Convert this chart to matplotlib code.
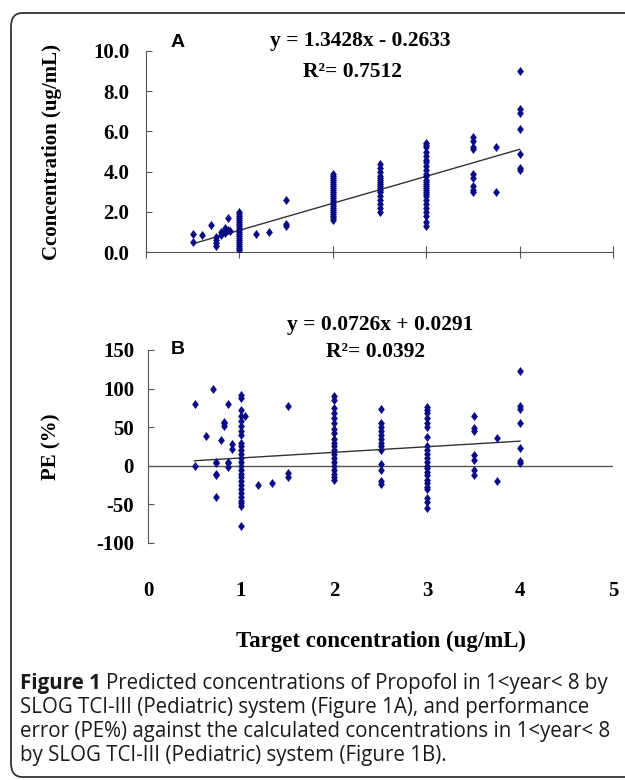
import matplotlib
matplotlib.use("Agg")
import matplotlib.pyplot as plt
from matplotlib.patches import FancyBboxPatch
import numpy as np

# panel A: target concentration vs measured concentration (ug/mL)
a_cols = [
    (0.5, [0.9, 0.5]),
    (0.6, [0.85]),
    (0.7, [1.35]),
    (0.75, [0.75, 0.6, 0.45, 0.3]),
    (0.8, [1.0, 0.85]),
    (0.85, [1.1, 0.95, 1.2]),
    (0.88, [1.7, 1.1]),
    (0.9, [1.05]),
    (1.0, [2.0, 1.9, 1.8, 1.7, 1.6, 1.5, 1.4, 1.3, 1.2, 1.1, 1.0, 0.9, 0.8, 0.7, 0.6, 0.5, 0.4, 0.3, 0.2, 0.1]),
    (1.18, [0.9]),
    (1.32, [1.0]),
    (1.5, [2.6, 1.4, 1.3]),
    (2.0, [3.9, 3.8, 3.7, 3.6, 3.5, 3.4, 3.3, 3.2, 3.1, 3.0, 2.9, 2.8, 2.7, 2.6, 2.5, 2.4, 2.3, 2.2, 2.1, 2.0, 1.9, 1.8, 1.7, 1.6]),
    (2.5, [4.4, 4.2, 4.0, 3.8, 3.7, 3.6, 3.5, 3.4, 3.3, 3.2, 3.1, 3.0, 2.8, 2.6, 2.4, 2.2, 2.0]),
    (3.0, [5.4, 5.3, 5.2, 5.0, 4.8, 4.6, 4.5, 4.3, 4.1, 3.9, 3.8, 3.6, 3.5, 3.4, 3.3, 3.2, 3.1, 3.0, 2.9, 2.8, 2.6, 2.4, 2.2, 2.0, 1.8, 1.5, 1.3]),
    (3.5, [5.7, 5.5, 5.2, 5.1, 3.9, 3.7, 3.3, 3.1, 3.0]),
    (3.75, [5.2, 3.0]),
    (4.0, [9.0, 7.1, 6.9, 6.1, 4.9, 4.2, 4.1]),
]
a_slope, a_icpt, a_r2 = 1.3428, -0.2633, 0.7512

# panel B: performance error PE (%)
b_cols = [
    (0.5, [80, 0]),
    (0.62, [38]),
    (0.7, [100]),
    (0.73, [3, 5, -10, -12, -40]),
    (0.78, [33]),
    (0.82, [55, 52, 57]),
    (0.86, [5, 3, -1, 80]),
    (0.9, [28, 22]),
    (1.0, [92, 88, 72, 65, 58, 52, 45, 40, 30, 25, 20, 15, 10, 5, 0, -5, -10, -15, -20, -25, -30, -35, -40, -45, -48, -52, -78]),
    (1.04, [64]),
    (1.18, [-25]),
    (1.33, [-22]),
    (1.5, [78, -9, -14]),
    (2.0, [90, 85, 75, 68, 62, 55, 48, 42, 35, 30, 25, 20, 15, 10, 5, 0, -5, -10, -15, -18]),
    (2.5, [73, 55, 50, 45, 40, 35, 30, 25, 20, 2, -5, -20, -24]),
    (3.0, [76, 72, 68, 62, 55, 50, 37, 25, 20, 15, 10, 5, 0, -3, -8, -12, -18, -22, -27, -30, -42, -47, -55]),
    (3.5, [64, 49, 45, 14, 8, -5, -12]),
    (3.75, [36, -20]),
    (4.0, [123, 78, 74, 55, 23, 6, 3]),
]
b_slope, b_icpt, b_r2 = 0.0726, 0.0291, 0.0392

xticks = [0, 1, 2, 3, 4, 5]
a_yticks = [0, 2, 4, 6, 8, 10]
b_yticks = [-100, -50, 0, 50, 100, 150]

caption = ["Predicted concentrations of Propofol in 1<year< 8 by",
           "SLOG TCI-III (Pediatric) system (Figure 1A), and performance",
           "error (PE%) against the calculated concentrations in 1<year< 8",
           "by SLOG TCI-III (Pediatric) system (Figure 1B)."]


def flat(cols):
    xs, ys = [], []
    for x, vals in cols:
        for v in vals:
            xs.append(x)
            ys.append(v)
    return np.array(xs), np.array(ys)


ax_x, ax_y = flat(a_cols)
bx_x, bx_y = flat(b_cols)

serif = "Liberation Serif"
navy = "#0b0b86"
axc = "#555555"
diamond = [(0, 1), (0.75, 0), (0, -1), (-0.75, 0), (0, 1)]

fig = plt.figure(figsize=(6.25, 7.8), dpi=100)
W, H = 625, 780

def rect(l, t, r, b):
    return [l / W, 1 - b / H, (r - l) / W, (b - t) / H]

# frame
frame = FancyBboxPatch((11 / W, 3 / H), 700 / W, 764 / H,
                       boxstyle="round,pad=0,rounding_size=0.018",
                       transform=fig.transFigure, fill=False,
                       ec="#333333", lw=1.3)
fig.patches.append(frame)

def style_labels(ax, size=15):
    for lb in ax.get_yticklabels() + ax.get_xticklabels():
        lb.set_fontfamily(serif)
        lb.set_fontweight("bold")
        lb.set_fontsize(size)

# ---- panel A
ax1 = fig.add_axes(rect(146, 51, 613, 252))
ax1.scatter(ax_x, ax_y, marker=diamond, s=42, color=navy, zorder=3, linewidths=0)
xl = np.array([ax_x.min(), ax_x.max()])
ax1.plot(xl, a_slope * xl + a_icpt, color="#333333", lw=1.0, zorder=2)
ax1.set_xlim(0, 5)
ax1.set_ylim(0, 10)
ax1.set_xticks(xticks)
ax1.set_yticks(a_yticks)
ax1.set_yticklabels(["%.1f" % v for v in a_yticks])
ax1.tick_params(axis="x", direction="inout", length=8, labelbottom=False, color=axc)
ax1.tick_params(axis="y", direction="in", length=4, pad=12, color=axc)
for s in ["top", "right"]:
    ax1.spines[s].set_visible(False)
for s in ["left", "bottom"]:
    ax1.spines[s].set_color(axc)
style_labels(ax1)
ax1.set_ylabel("Cconcentration (ug/mL)", fontsize=15, fontfamily=serif,
               fontweight="bold")
ax1.yaxis.set_label_coords(-0.18, 0.5)
ax1.text(0.053, 1.04, "A", transform=ax1.transAxes, fontsize=14,
         fontfamily="Liberation Sans", fontweight="bold", ha="left", va="center")
ax1.text(0.458, 1.05, "y = %.4fx - %.4f" % (a_slope, -a_icpt), transform=ax1.transAxes,
         fontsize=15.5, fontfamily=serif, fontweight="bold", ha="center", va="center")
ax1.text(0.443, 0.895, "R\u00b2= %.4f" % a_r2, transform=ax1.transAxes,
         fontsize=15.5, fontfamily=serif, fontweight="bold", ha="center", va="center")

# ---- panel B
ax2 = fig.add_axes(rect(148, 350, 613, 543))
ax2.scatter(bx_x, bx_y, marker=diamond, s=42, color=navy, zorder=3, linewidths=0)
xl = np.array([bx_x.min(), bx_x.max()])
ax2.plot(xl, (b_slope * xl + b_icpt) * 100, color="#333333", lw=1.0, zorder=2)
ax2.axhline(0, color=axc, lw=1.0, zorder=1)
ax2.set_xlim(0, 5)
ax2.set_ylim(-100, 150)
ax2.set_xticks(xticks)
ax2.set_yticks(b_yticks)
ax2.set_yticklabels(["%d" % v for v in b_yticks])
ax2.tick_params(axis="x", length=0, pad=27)
ax2.tick_params(axis="y", direction="in", length=4, pad=10, color=axc)
for s in ["top", "right", "bottom"]:
    ax2.spines[s].set_visible(False)
ax2.spines["left"].set_color(axc)
style_labels(ax2)
ax2.set_ylabel("PE (%)", fontsize=15, fontfamily=serif, fontweight="bold")
ax2.yaxis.set_label_coords(-0.185, 0.5)
ax2.set_xlabel("Target concentration (ug/mL)", fontsize=16.5, fontfamily=serif,
               fontweight="bold")
ax2.xaxis.set_label_coords(0.5, -0.455)
ax2.text(0.05, 1.0, "B", transform=ax2.transAxes, fontsize=14,
         fontfamily="Liberation Sans", fontweight="bold", ha="left", va="center")
ax2.text(0.50, 1.13, "y = %.4fx + %.4f" % (b_slope, b_icpt), transform=ax2.transAxes,
         fontsize=15.5, fontfamily=serif, fontweight="bold", ha="center", va="center")
ax2.text(0.49, 0.99, "R\u00b2= %.4f" % b_r2, transform=ax2.transAxes,
         fontsize=15.5, fontfamily=serif, fontweight="bold", ha="center", va="center")

# ---- caption
cap_font = "Open Sans"
cap_size = 14.8
r = fig.canvas.get_renderer()
y0 = 683
t = fig.text(20 / W, 1 - y0 / H, "Figure 1", fontfamily=cap_font, fontweight="bold",
             fontsize=cap_size, va="center", ha="left", color="#1a1a1a")
bb = t.get_window_extent(renderer=r)
fig.text(bb.x1 / W + 5 / W, 1 - y0 / H, caption[0], fontfamily=cap_font,
         fontsize=cap_size, va="center", ha="left", color="#1a1a1a")
for i, line in enumerate(caption[1:]):
    fig.text(20 / W, 1 - (y0 + 24 * (i + 1)) / H, line, fontfamily=cap_font,
             fontsize=cap_size, va="center", ha="left", color="#1a1a1a")

fig.savefig("out.png", dpi=100)
